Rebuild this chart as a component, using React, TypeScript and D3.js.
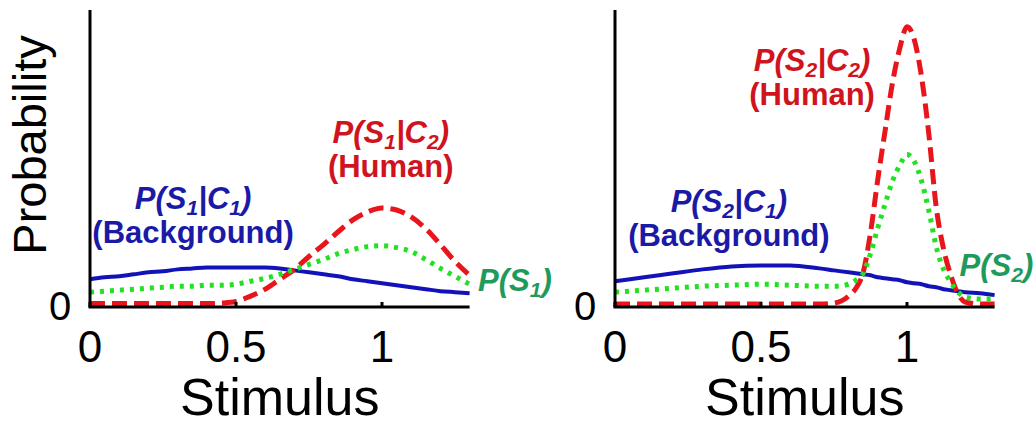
import React from "react";
import * as d3 from "d3";

// ---------- data ----------
const xLeft = [0, 0.05, 0.1, 0.15, 0.2, 0.25, 0.3, 0.35, 0.4, 0.45, 0.5, 0.55, 0.6, 0.65, 0.7, 0.75, 0.8, 0.85, 0.9, 0.95, 1.0, 1.05, 1.1, 1.15, 1.2, 1.25, 1.3];
const leftBackground = [0.28, 0.3, 0.31, 0.33, 0.35, 0.36, 0.38, 0.39, 0.4, 0.4, 0.4, 0.4, 0.4, 0.39, 0.37, 0.35, 0.33, 0.31, 0.28, 0.26, 0.24, 0.22, 0.2, 0.18, 0.16, 0.15, 0.14];
const leftHuman = [0.035, 0.035, 0.035, 0.035, 0.035, 0.035, 0.035, 0.035, 0.035, 0.04, 0.055, 0.11, 0.18, 0.28, 0.38, 0.51, 0.63, 0.76, 0.88, 0.96, 1.0, 0.98, 0.91, 0.79, 0.63, 0.46, 0.32];
const leftMixture = [0.15, 0.16, 0.17, 0.18, 0.19, 0.2, 0.21, 0.21, 0.22, 0.22, 0.23, 0.26, 0.29, 0.33, 0.38, 0.43, 0.48, 0.54, 0.58, 0.61, 0.62, 0.6, 0.56, 0.48, 0.39, 0.31, 0.23];

const xRight = [0, 0.1, 0.2, 0.3, 0.4, 0.5, 0.6, 0.7, 0.75, 0.8, 0.825, 0.85, 0.875, 0.9, 0.925, 0.95, 0.975, 1.0, 1.025, 1.05, 1.075, 1.1, 1.125, 1.15, 1.175, 1.2, 1.25, 1.3];
const rightBackground = [0.26, 0.3, 0.34, 0.38, 0.41, 0.42, 0.42, 0.39, 0.37, 0.35, 0.34, 0.33, 0.32, 0.3, 0.29, 0.28, 0.27, 0.25, 0.24, 0.23, 0.21, 0.2, 0.18, 0.17, 0.16, 0.15, 0.14, 0.12];
const rightHuman = [0.03, 0.03, 0.03, 0.03, 0.03, 0.03, 0.03, 0.03, 0.04, 0.11, 0.19, 0.35, 0.75, 1.29, 1.78, 2.26, 2.61, 2.83, 2.7, 2.32, 1.74, 1.01, 0.59, 0.32, 0.13, 0.05, 0.03, 0.03];
const rightMixture = [0.15, 0.17, 0.19, 0.21, 0.22, 0.23, 0.22, 0.21, 0.21, 0.23, 0.27, 0.34, 0.54, 0.8, 1.04, 1.27, 1.43, 1.54, 1.47, 1.27, 0.97, 0.61, 0.38, 0.25, 0.15, 0.1, 0.08, 0.08];

const xTicks = [0, 0.5, 1];
const xTickLabels = ["0", "0.5", "1"];
const xDomain = [0, 1.3];
const yDomain = [0, 3];

const xLabel = "Stimulus";
const yLabel = "Probability";

// ---------- styles ----------
const FONT = "Arial, 'Liberation Sans', Helvetica, sans-serif";
const BLUE_LINE = "#1212b8";
const RED_LINE = "#e8161c";
const GREEN_LINE = "#22e022";
const BLUE_TEXT = "#1a1aa6";
const RED_TEXT = "#d0141e";
const GREEN_TEXT = "#1f9a5c";

type Label = { sub1: string; sub2?: string; second?: string; x: number; y: number; anchor: "middle" | "start"; color: string };

function Formula({ l, xs, ys }: { l: Label; xs: any; ys: any }) {
  const px = xs(l.x);
  const py = ys(l.y);
  return (
    <g>
      <text x={px} y={py} textAnchor={l.anchor} fontFamily={FONT} fontWeight="bold" fontStyle="italic" fontSize={31} fill={l.color}>
        <tspan>P(S</tspan>
        <tspan dy={6} fontSize={21}>{l.sub1}</tspan>
        {l.sub2 ? (
          <>
            <tspan dy={-6}>|C</tspan>
            <tspan dy={6} fontSize={21}>{l.sub2}</tspan>
            <tspan dy={-6}>)</tspan>
          </>
        ) : (
          <tspan dy={-6}>)</tspan>
        )}
      </text>
      {l.second ? (
        <text x={px} y={py + 34} textAnchor="middle" fontFamily={FONT} fontWeight="bold" fontSize={31} fill={l.color}>
          {l.second}
        </text>
      ) : null}
    </g>
  );
}

function Panel({ x0, xsData, bg, hu, mix, labels, showYLabel }: any) {
  const xs = d3.scaleLinear().domain(xDomain).range([x0, x0 + 292 * 1.3]);
  const ys = d3.scaleLinear().domain(yDomain).range([307, 10]);
  const line = (vals: number[]) =>
    d3
      .line<number>()
      .x((_, i) => xs(xsData[i]))
      .y((v) => ys(v))
      .curve(d3.curveMonotoneX)(vals) as string;
  const xEnd = xs(xDomain[1]);
  return (
    <g>
      {/* curves */}
      <path d={line(bg)} fill="none" stroke={BLUE_LINE} strokeWidth={4} />
      <path d={line(hu)} fill="none" stroke={RED_LINE} strokeWidth={5} strokeDasharray="15 7" />
      <path d={line(mix)} fill="none" stroke={GREEN_LINE} strokeWidth={5} strokeDasharray="4 6" />
      {/* axes */}
      <line x1={x0} x2={x0} y1={10} y2={ys(0)} stroke="#000" strokeWidth={3} />
      <line x1={x0 - 1.5} x2={xEnd} y1={ys(0)} y2={ys(0)} stroke="#000" strokeWidth={3} />
      {xTicks.map((t) => (
        <line key={"t" + t} x1={xs(t)} x2={xs(t)} y1={ys(0)} y2={ys(0) - 5} stroke="#000" strokeWidth={3} />
      ))}
      {xTicks.map((t, i) => (
        <text key={"l" + t} x={xs(t)} y={362} textAnchor="middle" fontFamily={FONT} fontSize={44} fill="#000">
          {xTickLabels[i]}
        </text>
      ))}
      <text x={x0 - 30} y={320} textAnchor="middle" fontFamily={FONT} fontSize={40} fill="#000">
        0
      </text>
      <text x={(x0 + xEnd) / 2} y={415} textAnchor="middle" fontFamily={FONT} fontSize={52} fill="#000">
        {xLabel}
      </text>
      {showYLabel ? (
        <text transform={`translate(46,145) rotate(-90)`} textAnchor="middle" fontFamily={FONT} fontSize={47} fill="#000">
          {yLabel}
        </text>
      ) : null}
      {labels.map((l: Label, i: number) => (
        <Formula key={i} l={l} xs={xs} ys={ys} />
      ))}
    </g>
  );
}

const leftLabels: Label[] = [
  { sub1: "1", sub2: "1", second: "(Background)", x: 0.353, y: 0.99, anchor: "middle", color: BLUE_TEXT },
  { sub1: "1", sub2: "2", second: "(Human)", x: 1.03, y: 1.657, anchor: "middle", color: RED_TEXT },
  { sub1: "1", x: 1.329, y: 0.162, anchor: "start", color: GREEN_TEXT },
];
const rightLabels: Label[] = [
  { sub1: "2", sub2: "1", second: "(Background)", x: 0.39, y: 0.96, anchor: "middle", color: BLUE_TEXT },
  { sub1: "2", sub2: "2", second: "(Human)", x: 0.675, y: 2.384, anchor: "middle", color: RED_TEXT },
  { sub1: "2", x: 1.18, y: 0.313, anchor: "start", color: GREEN_TEXT },
];

export default function App() {
  return (
    <svg width={1034} height={423} style={{ position: "absolute", left: 0, top: 0, background: "#fff" }}>
      <rect width={1034} height={423} fill="#fff" />
      <Panel x0={90} xsData={xLeft} bg={leftBackground} hu={leftHuman} mix={leftMixture} labels={leftLabels} showYLabel />
      <Panel x0={615} xsData={xRight} bg={rightBackground} hu={rightHuman} mix={rightMixture} labels={rightLabels} showYLabel={false} />
    </svg>
  );
}
